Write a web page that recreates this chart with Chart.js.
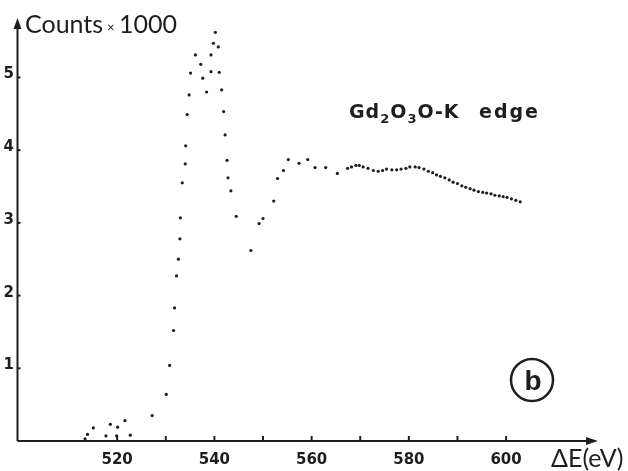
<!DOCTYPE html>
<html>
<head>
<meta charset="utf-8">
<script src="https://cdn.jsdelivr.net/npm/chart.js@4"></script>
<style>
  body { margin: 0; background: #fff; }
  #wrap { width: 628px; height: 471px; }
</style>
</head>
<body>
<div id="wrap"><canvas id="chart" width="628" height="471"></canvas></div>
<script>
// energy loss (eV) and counts (x1000)
const energy = [
  513.4, 513.9, 515.1, 517.7, 518.6, 519.9, 520.1, 521.6, 522.7, 527.2,
  530.1, 530.8, 531.6, 531.8, 532.2, 532.6, 532.9, 533.0, 533.4, 534.0,
  534.1, 534.4, 534.8, 535.1, 536.1, 537.2, 537.6, 538.4, 539.3, 539.3,
  539.8, 540.2, 540.8, 541.0, 541.5, 541.9, 542.2, 542.6, 542.8, 543.4,
  544.5, 547.5, 549.2, 550.0, 552.2, 553.0, 554.2, 555.2, 557.4, 559.2,
  560.7, 562.9, 565.3, 567.4, 568.2, 569.1, 569.8, 570.6, 571.6, 572.7,
  573.7, 574.6, 575.4, 576.5, 577.5, 578.4, 579.4, 580.2, 581.3, 582.1,
  583.1, 584.0, 584.9, 585.7, 586.5, 587.4, 588.3, 589.1, 590.0, 590.9,
  591.7, 592.6, 593.4, 594.3, 595.2, 596.0, 596.9, 597.7, 598.6, 599.4,
  600.2, 601.1, 602.0, 602.9
];
const counts = [
  0.03, 0.09, 0.18, 0.07, 0.23, 0.07, 0.19, 0.28, 0.08, 0.35,
  0.64, 1.04, 1.52, 1.83, 2.27, 2.50, 2.78, 3.07, 3.55, 3.81,
  4.06, 4.49, 4.76, 5.06, 5.31, 5.18, 4.99, 4.80, 5.31, 5.08,
  5.47, 5.62, 5.42, 5.07, 4.83, 4.53, 4.21, 3.86, 3.62, 3.44,
  3.09, 2.62, 2.99, 3.06, 3.30, 3.61, 3.72, 3.87, 3.82, 3.87,
  3.76, 3.76, 3.68, 3.75, 3.77, 3.79, 3.79, 3.77, 3.75, 3.72,
  3.71, 3.72, 3.74, 3.73, 3.73, 3.74, 3.75, 3.77, 3.77, 3.76,
  3.74, 3.71, 3.69, 3.66, 3.64, 3.62, 3.59, 3.56, 3.54, 3.51,
  3.49, 3.47, 3.45, 3.43, 3.42, 3.41, 3.40, 3.38, 3.37, 3.36,
  3.35, 3.33, 3.31, 3.29
];
const xTicks = [520, 530, 540, 550, 560, 570, 580, 590, 600];
const xLabels = [520, 540, 560, 580, 600];
const yTicks = [1, 2, 3, 4, 5];

const ink = "#1e1e1e";
const lightFont = "400 25px Lato, 'Open Sans', sans-serif";

// hand drawn style axes with arrows, like the original figure
const axesPlugin = {
  id: "axes",
  afterDraw(chart) {
    const ctx = chart.ctx;
    const xs = chart.scales.x;
    const ys = chart.scales.y;
    const x0 = xs.left + 0.5;
    const y0 = ys.getPixelForValue(0);
    const top = ys.top;
    const right = xs.right;

    ctx.save();
    ctx.strokeStyle = ink;
    ctx.fillStyle = ink;
    ctx.lineWidth = 2;

    // axis lines
    ctx.beginPath();
    ctx.moveTo(x0, y0);
    ctx.lineTo(x0, top + 4);
    ctx.moveTo(x0, y0);
    ctx.lineTo(right - 4, y0);
    ctx.stroke();

    // arrow heads
    ctx.beginPath();
    ctx.moveTo(x0, top - 2);
    ctx.lineTo(x0 - 4, top + 9);
    ctx.lineTo(x0 + 4, top + 9);
    ctx.closePath();
    ctx.fill();
    ctx.beginPath();
    ctx.moveTo(right + 1, y0);
    ctx.lineTo(right - 11, y0 - 4);
    ctx.lineTo(right - 11, y0 + 4);
    ctx.closePath();
    ctx.fill();

    // x ticks
    xTicks.forEach((v) => {
      const px = xs.getPixelForValue(v);
      ctx.beginPath();
      ctx.moveTo(px, y0);
      ctx.lineTo(px, y0 - 5);
      ctx.stroke();
    });
    ctx.font = "bold 15px 'DejaVu Sans', sans-serif";
    ctx.textAlign = "center";
    ctx.textBaseline = "alphabetic";
    xLabels.forEach((v) => {
      ctx.fillText(String(v), xs.getPixelForValue(v), y0 + 23);
    });

    // y ticks
    ctx.textAlign = "right";
    ctx.font = "bold 15px 'DejaVu Sans', sans-serif";
    yTicks.forEach((v) => {
      const py = ys.getPixelForValue(v);
      ctx.beginPath();
      ctx.moveTo(x0, py);
      ctx.lineTo(x0 + 3, py);
      ctx.stroke();
      ctx.fillText(String(v), 14, py + 1);
    });

    // axis titles
    ctx.textAlign = "left";
    ctx.font = lightFont;
    ctx.fillText("Counts", 25, 33);
    ctx.font = "400 13px Lato, sans-serif";
    ctx.fillText("\u00d7", 107, 32);
    ctx.font = lightFont;
    ctx.fillText("1000", 119, 33);
    ctx.fillText("\u0394E(eV)", 551, 467);

    // annotation
    let cx = 349;
    const base = 118;
    const big = "bold 19px 'DejaVu Sans', sans-serif";
    const small = "bold 13px 'DejaVu Sans', sans-serif";
    const parts = [
      ["Gd", big, 0], ["2", small, 5], ["O", big, 0], ["3", small, 5],
      ["O-K", big, 0]
    ];
    ctx.letterSpacing = "1px";
    parts.forEach(([t, f, dy]) => {
      ctx.font = f;
      ctx.fillText(t, cx, base + dy);
      cx += ctx.measureText(t).width;
    });
    ctx.font = big;
    ctx.letterSpacing = "2px";
    ctx.fillText("edge", 479, base);
    ctx.letterSpacing = "0px";

    // circled (b)
    ctx.lineWidth = 2.5;
    ctx.beginPath();
    ctx.arc(532, 380, 21, 0, Math.PI * 2);
    ctx.stroke();
    ctx.textAlign = "center";
    ctx.font = "bold 28px 'Liberation Sans', sans-serif";
    ctx.fillText("b", 533, 390);

    ctx.restore();
  }
};

new Chart(document.getElementById("chart"), {
  type: "scatter",
  data: {
    datasets: [{
      data: energy.map((e, i) => ({ x: e, y: counts[i] })),
      backgroundColor: ink,
      borderColor: ink,
      pointRadius: 1.6,
      borderWidth: 0,
    }],
  },
  options: {
    responsive: false,
    animation: false,
    layout: { padding: { left: 17, top: 20, right: 31, bottom: 30 } },
    plugins: { legend: { display: false }, tooltip: { enabled: false } },
    scales: {
      x: { type: "linear", min: 499.4, max: 618.7, display: false },
      y: { type: "linear", min: 0, max: 5.79, display: false },
    },
  },
  plugins: [axesPlugin],
});
</script>
</body>
</html>
